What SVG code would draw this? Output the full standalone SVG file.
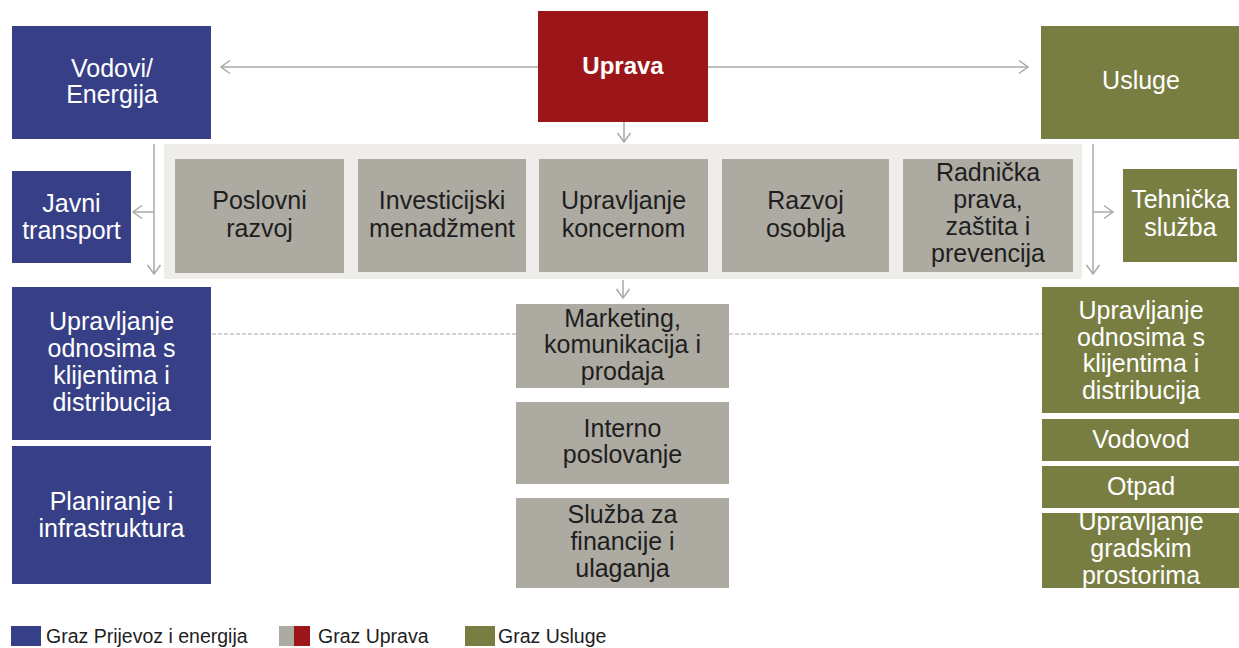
<svg xmlns="http://www.w3.org/2000/svg" width="1239" height="648" viewBox="0 0 1239 648">
<style>
.blue{fill:#373F87}
.red{fill:#9C1619}
.green{fill:#787E41}
.gray{fill:#ADAAA2}
.panel{fill:#EEEDEA}
text{font-family:"Liberation Sans",Arial,sans-serif;font-size:25px;text-anchor:middle}
.wt{fill:#FFFFFF}
.dt{fill:#1E1E1E}
.b{font-weight:bold;font-size:24px}
.lg{fill:#1E1E1E;font-size:19.5px;text-anchor:start}
.conn{stroke:#ABA9A3;stroke-width:1.5;fill:none}
.dash{stroke:#A8A8A8;stroke-width:1;stroke-dasharray:4 2;fill:none}
</style>
<defs>
<marker id="arr" viewBox="-11 -8 13 16" refX="0" refY="0" markerWidth="13" markerHeight="16" orient="auto" markerUnits="userSpaceOnUse">
<path d="M-9,-6.5 L0,0 L-9,6.5" fill="none" stroke="#ABA9A3" stroke-width="1.5"/>
</marker>
<clipPath id="clipG"><rect x="1042" y="513" width="197" height="75"/></clipPath>
</defs>
<rect width="1239" height="648" fill="#FFFFFF"/>

<g id="panel"><rect class="panel" x="164" y="144" width="918" height="135"/></g>

<g id="vodovi">
<rect class="blue" x="12" y="26" width="199" height="113"/>
<text class="wt" x="112" y="77">Vodovi/</text>
<text class="wt" x="112" y="103">Energija</text>
</g>
<g id="uprava">
<rect class="red" x="538" y="11" width="170" height="111"/>
<text class="wt b" x="623" y="74">Uprava</text>
</g>
<g id="usluge">
<rect class="green" x="1041" y="26" width="198" height="113"/>
<text class="wt" x="1141" y="89">Usluge</text>
</g>

<g id="poslovni">
<rect class="gray" x="175" y="159" width="169" height="114"/>
<text class="dt" x="259.5" y="209">Poslovni</text>
<text class="dt" x="259.5" y="237">razvoj</text>
</g>
<g id="investicijski">
<rect class="gray" x="358" y="159" width="168" height="113"/>
<text class="dt" x="442" y="209">Investicijski</text>
<text class="dt" x="442" y="237" textLength="146" lengthAdjust="spacingAndGlyphs">menadžment</text>
</g>
<g id="koncern">
<rect class="gray" x="539" y="159" width="169" height="113"/>
<text class="dt" x="623.5" y="209">Upravljanje</text>
<text class="dt" x="623.5" y="237">koncernom</text>
</g>
<g id="osoblje">
<rect class="gray" x="722" y="159" width="167" height="113"/>
<text class="dt" x="805.5" y="209">Razvoj</text>
<text class="dt" x="805.5" y="237">osoblja</text>
</g>
<g id="radnicka">
<rect class="gray" x="903" y="159" width="170" height="113"/>
<text class="dt" x="988" y="181">Radnička</text>
<text class="dt" x="988" y="208">prava,</text>
<text class="dt" x="988" y="235">zaštita i</text>
<text class="dt" x="988" y="262">prevencija</text>
</g>

<g id="javni">
<rect class="blue" x="12" y="171" width="119" height="92"/>
<text class="wt" x="71.5" y="212">Javni</text>
<text class="wt" x="71.5" y="239">transport</text>
</g>
<g id="tehnicka">
<rect class="green" x="1123" y="169" width="114" height="93"/>
<text class="wt" x="1180.5" y="208">Tehnička</text>
<text class="wt" x="1180.5" y="236">služba</text>
</g>

<g id="l-odnosi">
<rect class="blue" x="12" y="287" width="199" height="153"/>
<text class="wt" x="111.5" y="330">Upravljanje</text>
<text class="wt" x="111.5" y="357">odnosima s</text>
<text class="wt" x="111.5" y="384">klijentima i</text>
<text class="wt" x="111.5" y="411">distribucija</text>
</g>
<g id="planiranje">
<rect class="blue" x="12" y="446" width="199" height="138"/>
<text class="wt" x="111.5" y="510">Planiranje i</text>
<text class="wt" x="111.5" y="537">infrastruktura</text>
</g>

<g id="marketing">
<rect class="gray" x="516" y="304" width="213" height="84"/>
<text class="dt" x="622.5" y="327">Marketing,</text>
<text class="dt" x="622.5" y="353">komunikacija i</text>
<text class="dt" x="622.5" y="380">prodaja</text>
</g>
<g id="interno">
<rect class="gray" x="516" y="402" width="213" height="82"/>
<text class="dt" x="622.5" y="437">Interno</text>
<text class="dt" x="622.5" y="463">poslovanje</text>
</g>
<g id="sluzba">
<rect class="gray" x="516" y="498" width="213" height="90"/>
<text class="dt" x="622.5" y="523">Služba za</text>
<text class="dt" x="622.5" y="550">financije i</text>
<text class="dt" x="622.5" y="577">ulaganja</text>
</g>

<g id="r-odnosi">
<rect class="green" x="1042" y="287" width="197" height="126"/>
<text class="wt" x="1141" y="319">Upravljanje</text>
<text class="wt" x="1141" y="346">odnosima s</text>
<text class="wt" x="1141" y="372">klijentima i</text>
<text class="wt" x="1141" y="399">distribucija</text>
</g>
<g id="vodovod">
<rect class="green" x="1042" y="419" width="197" height="42"/>
<text class="wt" x="1141" y="448">Vodovod</text>
</g>
<g id="otpad">
<rect class="green" x="1042" y="466" width="197" height="42"/>
<text class="wt" x="1141" y="495">Otpad</text>
</g>
<g id="gradski">
<rect class="green" x="1042" y="513" width="197" height="75"/>
<g clip-path="url(#clipG)">
<text class="wt" x="1141" y="530">Upravljanje</text>
<text class="wt" x="1141" y="557">gradskim</text>
<text class="wt" x="1141" y="584">prostorima</text>
</g>
</g>

<g id="connectors">
<line class="conn" x1="538" y1="67" x2="221" y2="67" marker-end="url(#arr)"/>
<line class="conn" x1="708" y1="67" x2="1028" y2="67" marker-end="url(#arr)"/>
<line class="conn" x1="624" y1="122" x2="624" y2="142" marker-end="url(#arr)"/>
<line class="conn" x1="154" y1="144" x2="154" y2="274" marker-end="url(#arr)"/>
<line class="conn" x1="154" y1="212" x2="133" y2="212" marker-end="url(#arr)"/>
<line class="conn" x1="1093" y1="144" x2="1093" y2="274" marker-end="url(#arr)"/>
<line class="conn" x1="1093" y1="212" x2="1113" y2="212" marker-end="url(#arr)"/>
<line class="conn" x1="623" y1="280" x2="623" y2="298" marker-end="url(#arr)"/>
<line class="dash" x1="212" y1="334" x2="516" y2="334"/>
<line class="dash" x1="729" y1="334" x2="1042" y2="334"/>
</g>

<g id="legend">
<rect class="blue" x="11" y="626" width="30" height="20"/>
<text class="lg" x="46" y="643">Graz Prijevoz i energija</text>
<rect class="gray" x="279" y="626" width="15" height="20"/>
<rect class="red" x="294" y="626" width="16" height="20"/>
<text class="lg" x="318" y="643">Graz Uprava</text>
<rect class="green" x="465" y="626" width="30" height="20"/>
<text class="lg" x="498" y="643">Graz Usluge</text>
</g>
</svg>
